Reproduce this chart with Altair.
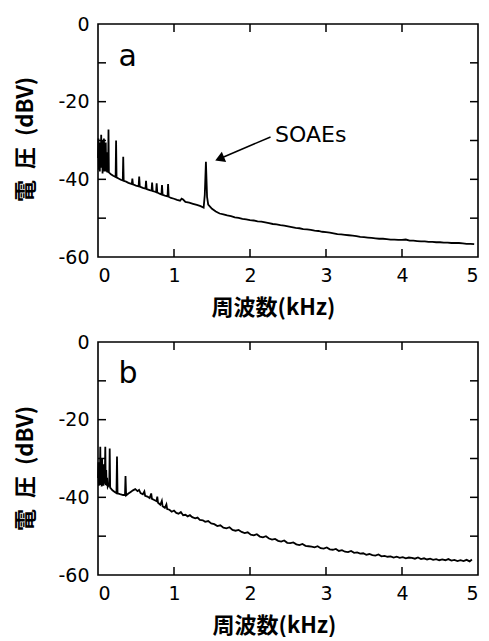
import altair as alt
import pandas as pd

# ---------------- data ----------------
freq_a = [0.000, 0.006, 0.012, 0.018, 0.024, 0.030, 0.036, 0.042, 0.048, 0.054,
          0.060, 0.066, 0.072, 0.078, 0.084, 0.090, 0.096, 0.102, 0.108, 0.114,
          0.120, 0.128, 0.133, 0.138, 0.143, 0.170, 0.200, 0.232, 0.238, 0.244,
          0.270, 0.300, 0.326, 0.332, 0.338, 0.370, 0.400, 0.445, 0.452, 0.460,
          0.500, 0.535, 0.542, 0.550, 0.590, 0.625, 0.632, 0.640, 0.680, 0.705,
          0.712, 0.720, 0.750, 0.765, 0.772, 0.780, 0.810, 0.835, 0.842, 0.850,
          0.880, 0.915, 0.922, 0.930, 0.960, 1.000, 1.040, 1.080, 1.100, 1.120,
          1.150, 1.200, 1.250, 1.300, 1.350, 1.390, 1.405, 1.420, 1.435, 1.450,
          1.500, 1.550, 1.600, 1.650, 1.700, 1.750, 1.800, 1.850, 1.900, 1.950,
          2.000, 2.050, 2.100, 2.150, 2.200, 2.250, 2.300, 2.350, 2.400, 2.450,
          2.500, 2.550, 2.600, 2.650, 2.700, 2.750, 2.800, 2.850, 2.900, 2.950,
          3.000, 3.050, 3.100, 3.150, 3.200, 3.250, 3.300, 3.350, 3.400, 3.450,
          3.500, 3.550, 3.600, 3.650, 3.700, 3.750, 3.800, 3.850, 3.900, 3.950,
          4.000, 4.050, 4.100, 4.150, 4.200, 4.250, 4.300, 4.350, 4.400, 4.450,
          4.500, 4.550, 4.600, 4.650, 4.700, 4.750, 4.800, 4.850, 4.900, 4.950]
volt_a = [-34.5, -29.5, -37.5, -30.5, -38.0, -31.5, -37.0, -28.5, -36.5, -30.0,
          -38.5, -31.0, -37.0, -29.5, -38.0, -32.0, -37.5, -30.5, -38.0, -33.0,
          -38.2, -37.8, -38.0, -27.2, -38.2, -38.7, -39.1, -39.4, -30.0, -39.5,
          -39.8, -40.1, -40.3, -34.2, -40.4, -40.6, -40.9, -41.2, -39.8, -41.3,
          -41.6, -41.8, -39.3, -41.9, -42.2, -42.4, -40.4, -42.5, -42.8, -42.9,
          -40.8, -43.0, -43.2, -43.3, -41.0, -43.4, -43.7, -43.9, -41.5, -44.0,
          -44.2, -44.4, -41.2, -44.5, -44.8, -45.0, -45.3, -45.5, -45.0, -45.2,
          -45.8, -46.0, -46.3, -46.6, -46.9, -47.3, -44.0, -35.5, -44.5, -46.5,
          -47.6, -48.3, -48.8, -49.0, -49.3, -49.5, -49.8, -49.9, -50.2, -50.3,
          -50.5, -50.6, -50.8, -50.9, -51.1, -51.3, -51.5, -51.6, -51.8, -51.9,
          -52.1, -52.3, -52.5, -52.6, -52.8, -52.9, -53.0, -53.2, -53.3, -53.5,
          -53.6, -53.7, -53.9, -54.1, -54.2, -54.3, -54.4, -54.5, -54.6, -54.8,
          -54.9, -55.0, -55.1, -55.2, -55.3, -55.3, -55.4, -55.5, -55.5, -55.6,
          -55.6, -55.5, -55.8, -55.8, -55.9, -56.0, -56.0, -56.1, -56.1, -56.2,
          -56.2, -56.3, -56.3, -56.4, -56.4, -56.4, -56.5, -56.6, -56.6, -56.7]

freq_b = [0.000, 0.006, 0.012, 0.018, 0.024, 0.030, 0.036, 0.042, 0.048, 0.054,
          0.060, 0.066, 0.072, 0.078, 0.084, 0.090, 0.096, 0.102, 0.108, 0.114,
          0.120, 0.128, 0.140, 0.148, 0.154, 0.160, 0.190, 0.220, 0.243, 0.250,
          0.257, 0.290, 0.330, 0.355, 0.362, 0.370, 0.400, 0.430, 0.460, 0.490,
          0.520, 0.540, 0.560, 0.590, 0.610, 0.620, 0.650, 0.680, 0.700, 0.710,
          0.740, 0.770, 0.780, 0.790, 0.820, 0.840, 0.850, 0.880, 0.900, 0.910,
          0.940, 0.970, 1.000, 1.030, 1.060, 1.090, 1.120, 1.150, 1.180, 1.210,
          1.240, 1.280, 1.310, 1.340, 1.380, 1.410, 1.450, 1.490, 1.530, 1.570,
          1.610, 1.650, 1.690, 1.730, 1.770, 1.810, 1.850, 1.890, 1.930, 1.970,
          2.010, 2.050, 2.090, 2.130, 2.170, 2.210, 2.250, 2.290, 2.330, 2.370,
          2.410, 2.450, 2.490, 2.530, 2.570, 2.610, 2.650, 2.690, 2.730, 2.770,
          2.810, 2.850, 2.890, 2.930, 2.970, 3.010, 3.050, 3.090, 3.130, 3.170,
          3.210, 3.250, 3.290, 3.330, 3.370, 3.410, 3.450, 3.490, 3.530, 3.570,
          3.610, 3.650, 3.690, 3.730, 3.770, 3.810, 3.850, 3.890, 3.930, 3.970,
          4.010, 4.050, 4.090, 4.130, 4.170, 4.210, 4.250, 4.290, 4.330, 4.370,
          4.410, 4.450, 4.490, 4.530, 4.570, 4.610, 4.650, 4.690, 4.730, 4.770,
          4.810, 4.850, 4.890, 4.920]
volt_b = [-35.0, -31.0, -37.0, -33.0, -36.5, -27.0, -36.8, -32.5, -37.2, -30.0,
          -36.0, -33.5, -37.0, -31.5, -36.5, -34.0, -27.0, -36.8, -33.0, -37.0,
          -35.0, -37.3, -36.8, -37.2, -27.4, -37.5, -38.2, -38.6, -38.9, -29.5,
          -39.0, -39.2, -39.4, -39.4, -34.5, -39.5, -39.0, -38.6, -38.2, -37.9,
          -38.4, -38.1, -38.9, -39.2, -38.5, -39.6, -39.8, -40.2, -39.0, -40.4,
          -40.7, -41.0, -39.8, -41.4, -41.9, -40.9, -42.3, -42.7, -41.8, -43.0,
          -43.2, -43.7, -43.4, -44.0, -44.2, -43.8, -44.6, -44.5, -44.9, -44.6,
          -45.1, -45.4, -45.2, -45.8, -45.9, -46.3, -46.1, -46.7, -46.9, -47.4,
          -47.2, -47.8, -48.0, -47.7, -48.4, -48.6, -48.4, -48.9, -49.2, -49.0,
          -49.6, -49.8, -49.5, -50.1, -50.3, -50.0, -50.6, -50.9, -50.7, -51.2,
          -51.4, -51.1, -51.7, -51.8, -51.6, -52.1, -52.3, -52.0, -52.5, -52.6,
          -52.7, -52.9, -52.6, -53.1, -53.2, -52.9, -53.4, -53.5, -53.3, -53.8,
          -53.6, -54.0, -54.1, -53.8, -54.3, -54.2, -54.5, -54.4, -54.8, -54.6,
          -54.9, -55.0, -54.7, -55.2, -55.1, -55.3, -55.2, -55.5, -55.3, -55.6,
          -55.4, -55.7, -55.5, -55.6, -55.8, -55.5, -55.9, -55.7, -56.0, -55.8,
          -56.1, -55.9, -56.2, -56.0, -56.2, -55.9, -56.3, -56.1, -56.4, -56.2,
          -56.4, -56.1, -56.5, -56.0]

x_label_values = [0, 1, 2, 3, 4, 5]
y_label_values = [-60, -40, -20, 0]
x_tick_marks = [1, 2, 3, 4]
y_tick_marks = [-50, -40, -30, -20, -10]

panel_letters = ["a", "b"]
letter_x = [0.27, 0.27]
letter_y = [-10.9, -10.6]

soae_text = ["SOAEs"]
soae_text_x = [2.33]
soae_text_y = [-30.3]
arrow_start_x = [2.27]
arrow_start_y = [-29.1]
arrow_end_x = [1.645]
arrow_end_y = [-34.3]
arrow_head_x = [1.60]
arrow_head_y = [-34.7]

# ---------------- styling ----------------
W, H = 380, 233
FONT = "DejaVu Sans"
CJK = "Noto Sans CJK JP"
TS = 8

xs = alt.Scale(domain=[0, 5], nice=False, zero=False)
ys = alt.Scale(domain=[-60, 0], nice=False, zero=False)


def panel(freq, volt, idx, title_x, x_title_pad, y_title_y):
    df = pd.DataFrame({"f": freq, "v": volt})
    line = alt.Chart(df).mark_line(color="black", strokeWidth=1.8).encode(
        x=alt.X("f:Q", scale=xs, axis=alt.Axis(
            orient="bottom", values=x_label_values, format="d", domain=False,
            ticks=False, labelPadding=9, labelFont=FONT, labelFontSize=19,
            labelColor="black", grid=False, title="周波数(kHz)", titleFont=CJK,
            titleFontSize=22, titleFontWeight="bold", titleColor="black",
            titlePadding=x_title_pad, titleX=title_x)),
        y=alt.Y("v:Q", scale=ys, axis=alt.Axis(
            orient="left", values=y_label_values,
            labelExpr="'' + datum.value",
            domain=False, ticks=False, labelPadding=9, labelFont=FONT,
            labelFontSize=19, labelColor="black", grid=False,
            title="電\u2002圧\u2002(dBV)", titleFont=CJK, titleFontSize=22,
            titleFontWeight="bold", titleColor="black", titlePadding=20,
            titleY=y_title_y)),
    )
    xt = pd.DataFrame({"t": x_tick_marks})
    yt = pd.DataFrame({"t": y_tick_marks})
    tick_style = dict(color="black", strokeWidth=1.5)
    bottom_ticks = alt.Chart(xt).mark_rule(**tick_style).encode(
        x=alt.X("t:Q", scale=xs, axis=None),
        y=alt.value(H), y2=alt.value(H - TS))
    top_ticks = alt.Chart(xt).mark_rule(**tick_style).encode(
        x=alt.X("t:Q", scale=xs, axis=None),
        y=alt.value(0), y2=alt.value(TS))
    left_ticks = alt.Chart(yt).mark_rule(**tick_style).encode(
        y=alt.Y("t:Q", scale=ys, axis=None),
        x=alt.value(0), x2=alt.value(TS))
    right_ticks = alt.Chart(yt).mark_rule(**tick_style).encode(
        y=alt.Y("t:Q", scale=ys, axis=None),
        x=alt.value(W - TS), x2=alt.value(W))

    ldf = pd.DataFrame({"t": [panel_letters[idx]], "x": [letter_x[idx]],
                        "y": [letter_y[idx]]})
    letter = alt.Chart(ldf).mark_text(
        font=FONT, fontSize=30, align="left", baseline="alphabetic", color="black"
    ).encode(
        x=alt.X("x:Q", scale=xs, axis=None),
        y=alt.Y("y:Q", scale=ys, axis=None),
        text="t:N",
    )
    layers = [line, bottom_ticks, top_ticks, left_ticks, right_ticks, letter]
    if idx == 0:
        tdf = pd.DataFrame({"t": soae_text, "x": soae_text_x, "y": soae_text_y})
        txt = alt.Chart(tdf).mark_text(
            font=FONT, fontSize=22, align="left", baseline="alphabetic", color="black"
        ).encode(
            x=alt.X("x:Q", scale=xs, axis=None),
            y=alt.Y("y:Q", scale=ys, axis=None),
            text="t:N",
        )
        adf = pd.DataFrame({"x": arrow_start_x, "y": arrow_start_y,
                            "x2": arrow_end_x, "y2": arrow_end_y})
        shaft = alt.Chart(adf).mark_rule(color="black", strokeWidth=1.5).encode(
            x=alt.X("x:Q", scale=xs, axis=None),
            y=alt.Y("y:Q", scale=ys, axis=None),
            x2="x2:Q", y2="y2:Q",
        )
        hdf = pd.DataFrame({"x": arrow_head_x, "y": arrow_head_y})
        head = alt.Chart(hdf).mark_point(
            shape="triangle-right", filled=True, size=120, angle=157,
            color="black", opacity=1
        ).encode(
            x=alt.X("x:Q", scale=xs, axis=None),
            y=alt.Y("y:Q", scale=ys, axis=None),
        )
        layers += [txt, shaft, head]
    return alt.layer(*layers).properties(width=W, height=H).resolve_axis(
        x="independent", y="independent")


chart = alt.vconcat(
    panel(freq_a, volt_a, 0, 175, 12, 115),
    panel(freq_b, volt_b, 1, 176, 12, 126),
    spacing=85, bounds="flush",
).properties(
    padding={"left": 14, "top": 14, "right": 0, "bottom": 0},
    background="white",
).configure_view(stroke="black", strokeWidth=1.6)

chart.save("out.html", embed_options={"renderer": "svg", "actions": False})
